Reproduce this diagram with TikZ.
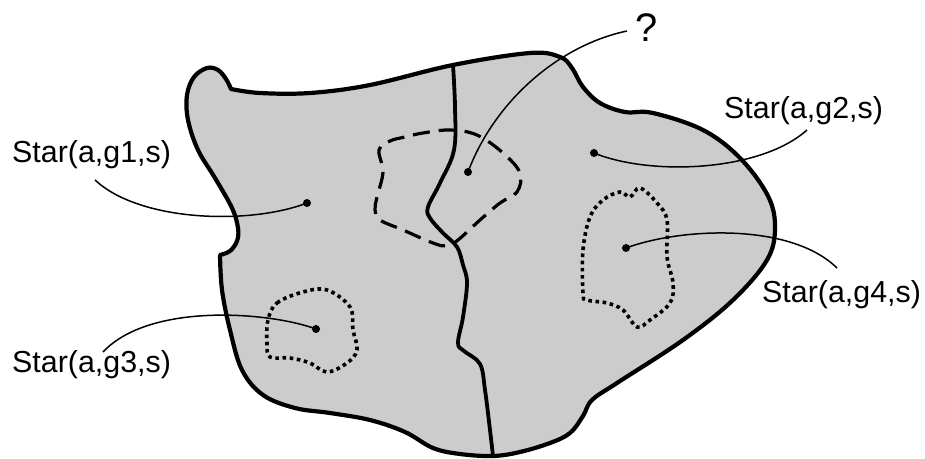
\documentclass[tikz,border=0pt]{standalone}
\usepackage{fontspec}
\setmainfont{Liberation Sans}
\begin{document}
\begin{tikzpicture}[x=1bp,y=-1bp,
  region/.style={fill=black!20,draw=black,line width=4.2bp,line join=round},
  border/.style={draw=black,line width=3.8bp,line cap=round},
  dashedreg/.style={draw=black,line width=3.2bp,dash pattern=on 17bp off 9bp},
  dottedreg/.style={draw=black,line width=3.6bp,dash pattern=on 3.6bp off 3.6bp},
  conn/.style={draw=black,line width=1.5bp},
  dot/.style={circle,fill=black,inner sep=0pt,minimum size=8bp},
  lbl/.style={inner sep=0pt,anchor=base west,font=\fontsize{30.5}{35}\selectfont},
  qlbl/.style={inner sep=0pt,anchor=base west,font=\fontsize{40}{46}\selectfont}]
\useasboundingbox (0,0) rectangle (925,459);
% outer region
\path[region]
  plot[smooth,tension=0.6] coordinates {(220,255) (230,251) (237,241) (238,228) (232,208) (215,178) (198,150) (188,120) (187,95) (194,77) (207,68) (218,70) (226,79) (231,89)}
  -- plot[smooth,tension=0.6] coordinates {(231,89) (260,93) (310,93) (370,85) (453,65) (530,53) (560,57) (572,68) (583,87) (600,103) (625,112) (653,113) (703,130) (740,158) (768,196) (775,228) (767,260) (733,300) (683,340) (617,383) (592,400) (583,416) (570,433) (550,443) (520,452) (493,456) (460,454) (433,448) (405,432) (370,420) (330,413) (295,408) (263,395) (242,370) (230,330) (222,290) (220,255)}
  -- cycle;
% divider
\draw[border] plot[smooth,tension=0.6] coordinates {(453,65) (455,107) (454,150) (440,183) (428,207) (430,218) (443,233) (457,247) (463,265) (467,283) (463,317) (458,343) (464,351) (480,364) (485,390) (490,430) (493,456)};
% dashed region
\draw[dashedreg] plot[smooth cycle,tension=0.6] coordinates {(379,150) (383,172) (377,197) (375,210) (380,220) (403,230) (433,243) (447,246) (458,240) (480,220) (500,203) (517,192) (520,173) (503,153) (477,135) (450,130) (423,133) (405,137) (390,141)};
% dotted g3
\draw[dottedreg] plot[smooth cycle,tension=0.6] coordinates {(268,320) (277,303) (303,292) (327,290) (350,307) (353,330) (357,350) (347,363) (327,372) (310,363) (290,358) (270,357) (267,343)};
% dotted g4
\draw[dottedreg] plot[smooth cycle,tension=0.6] coordinates {(583,293) (583,250) (590,217) (603,200) (620,192) (630,197) (640,188) (657,203) (667,220) (667,257) (673,283) (670,303) (650,320) (637,327) (623,310) (607,303) (587,300)};
% dots
\node[dot] (d1) at (307,203) {};
\node[dot] (dq) at (468,172) {};
\node[dot] (d2) at (594,153) {};
\node[dot] (d4) at (626,248) {};
\node[dot] (d3) at (316,329) {};
% labels
\node[lbl] (l1) at (12,163) {Star(a,g1,s)};
\node[lbl] (l3) at (12,373) {Star(a,g3,s)};
\node[lbl] (l2) at (724,119) {Star(a,g2,s)};
\node[lbl] (l4) at (762,303) {Star(a,g4,s)};
\node[qlbl] (lq) at (635,42) {?};
% connector ends
\coordinate (e1) at (95,180);
\coordinate (e3) at (103,352);
\coordinate (e2) at (807,130);
\coordinate (e4) at (837,268);
\coordinate (eq) at (627,31);
% connectors
\draw[conn] (d1.center) .. controls (250,225) and (140,222) .. (e1);
\draw[conn] (d3.center) .. controls (270,312) and (150,302) .. (e3);
\draw[conn] (d2.center) .. controls (650,176) and (760,172) .. (e2);
\draw[conn] (d4.center) .. controls (680,228) and (790,222) .. (e4);
\draw[conn] (dq.center) .. controls (495,100) and (560,45) .. (eq);
\end{tikzpicture}
\end{document}
